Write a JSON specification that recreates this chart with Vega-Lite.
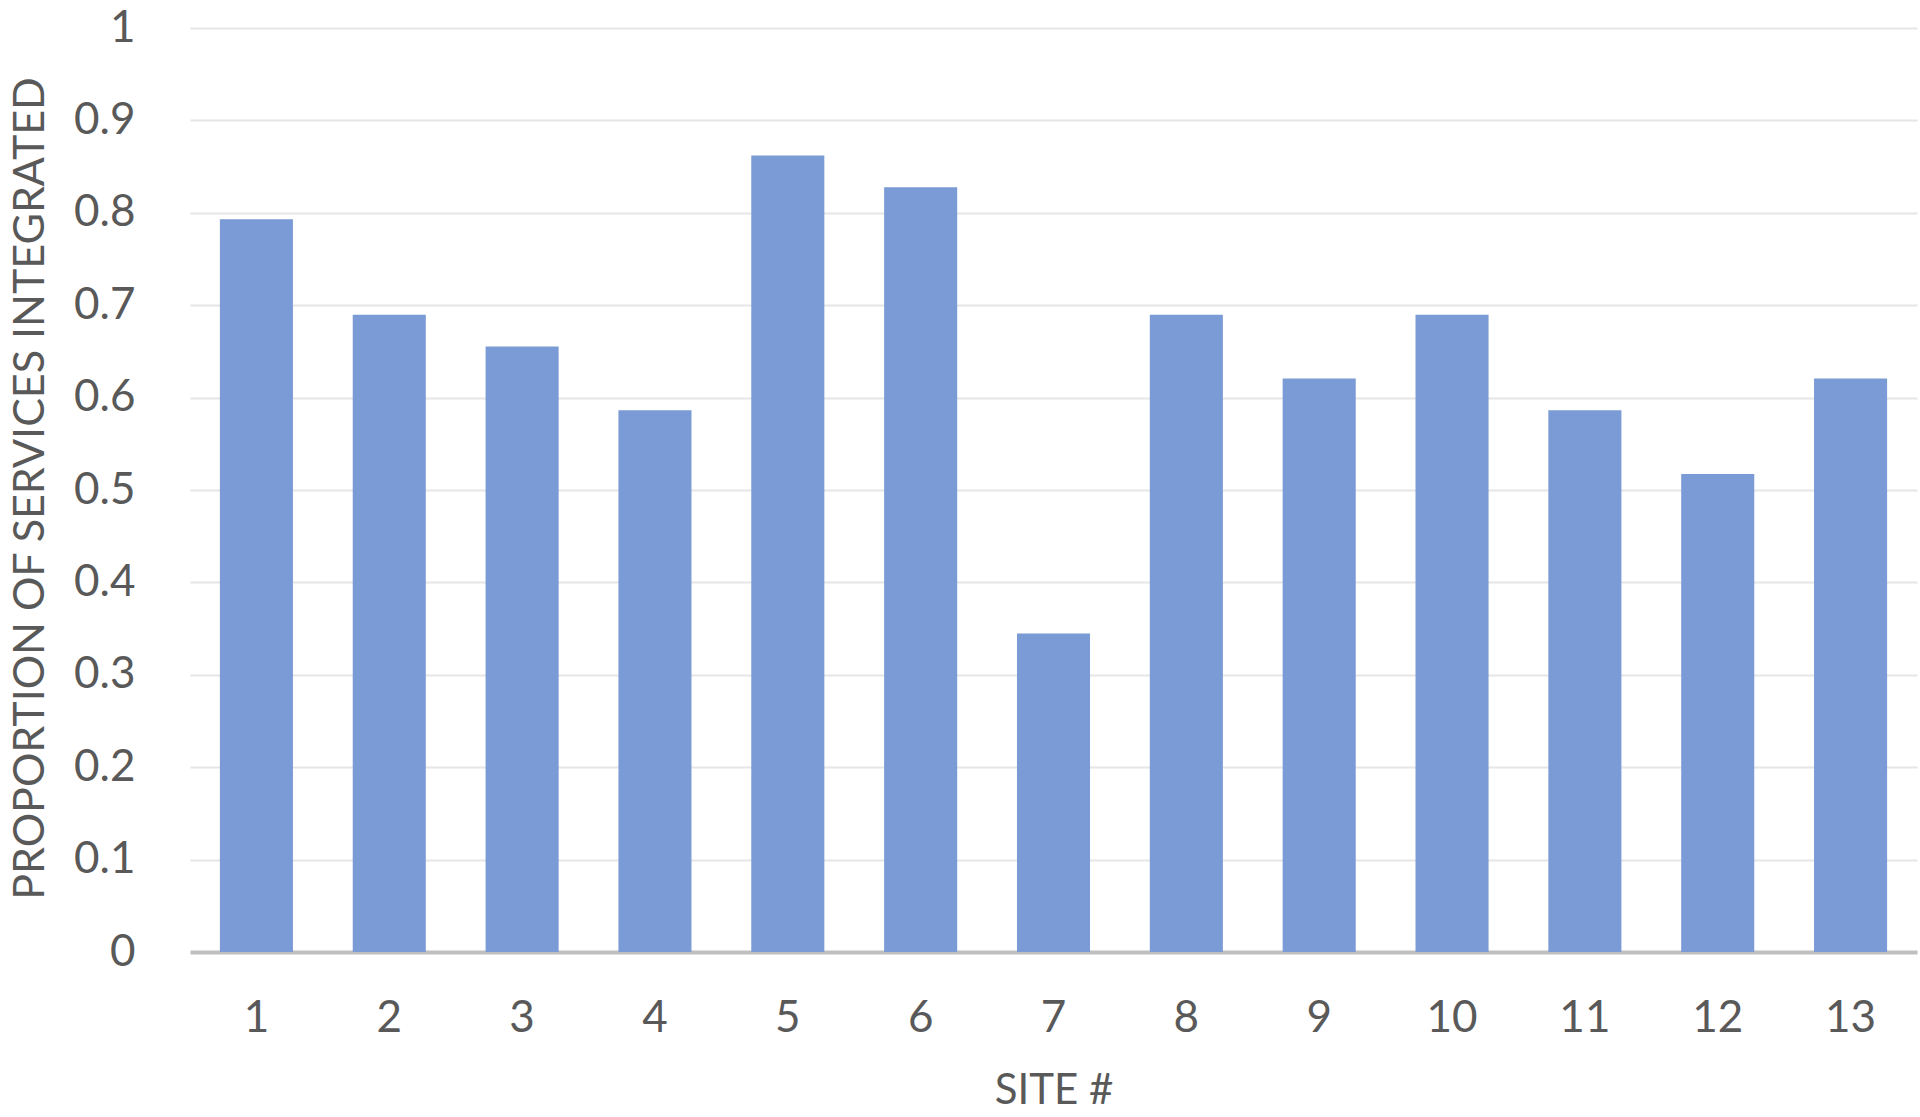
{
  "$schema": "https://vega.github.io/schema/vega-lite/v6.json",
  "width": 1727,
  "height": 924,
  "autosize": {"type": "none"},
  "padding": {"left": 190, "top": 28, "right": 3, "bottom": 165},
  "background": "white",
  "config": {"view": {"stroke": null}, "font": "Lato"},
  "data": {
    "values": [
      {"site": "1", "proportion": 0.7931},
      {"site": "2", "proportion": 0.6897},
      {"site": "3", "proportion": 0.6552},
      {"site": "4", "proportion": 0.5862},
      {"site": "5", "proportion": 0.8621},
      {"site": "6", "proportion": 0.8276},
      {"site": "7", "proportion": 0.3448},
      {"site": "8", "proportion": 0.6897},
      {"site": "9", "proportion": 0.6207},
      {"site": "10", "proportion": 0.6897},
      {"site": "11", "proportion": 0.5862},
      {"site": "12", "proportion": 0.5172},
      {"site": "13", "proportion": 0.6207}
    ]
  },
  "mark": {"type": "bar", "color": "#7A9BD5"},
  "encoding": {
    "x": {
      "field": "site",
      "type": "ordinal",
      "sort": null,
      "scale": {"paddingInner": 0.45, "paddingOuter": 0.225},
      "axis": {
        "title": "SITE #",
        "labelAngle": 0,
        "labelFont": "Lato",
        "labelFontSize": 44,
        "labelColor": "#595959",
        "labelPadding": 44,
        "ticks": false,
        "domainColor": "#BFBFBF",
        "domainWidth": 4,
        "titleFont": "Lato",
        "titleFontSize": 42,
        "titleFontWeight": "normal",
        "titleColor": "#595959",
        "titleY": 138,
        "titleBaseline": "middle"
      }
    },
    "y": {
      "field": "proportion",
      "type": "quantitative",
      "scale": {"domain": [0, 1]},
      "axis": {
        "title": "PROPORTION OF SERVICES INTEGRATED",
        "values": [0, 0.1, 0.2, 0.3, 0.4, 0.5, 0.6, 0.7, 0.8, 0.9, 1],
        "labelExpr": "datum.value == 0 ? '0' : datum.value == 1 ? '1' : format(datum.value, '.1f')",
        "domain": false,
        "ticks": false,
        "labelFont": "Lato",
        "labelFontSize": 44,
        "labelColor": "#595959",
        "labelPadding": 55,
        "gridColor": "#E6E6E6",
        "gridWidth": 2,
        "titleFont": "Lato",
        "titleFontSize": 43,
        "titleFontWeight": "normal",
        "titleColor": "#595959",
        "titleX": -160,
        "titleY": 460,
        "titleBaseline": "middle",
        "titleAngle": -90
      }
    }
  }
}
